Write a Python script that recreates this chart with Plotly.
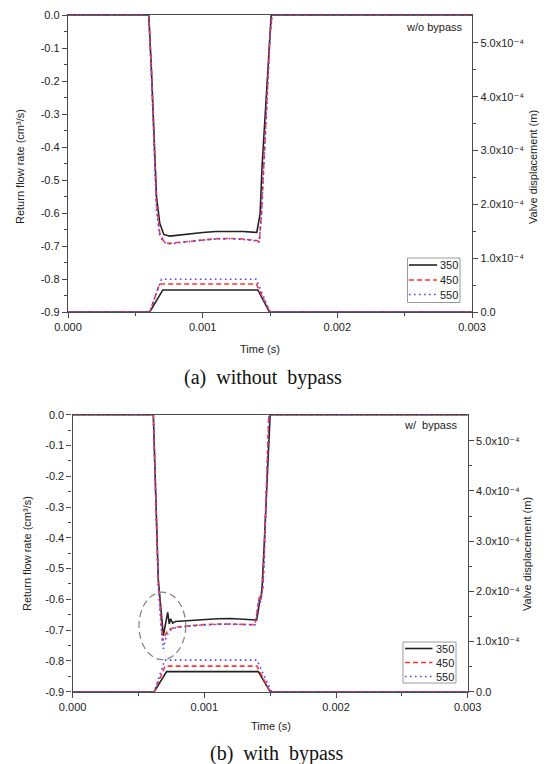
import plotly.graph_objects as go

# ---------------- data ----------------
labels = ["350", "450", "550"]

# (a) without bypass : return flow rate (cm^3/s) vs time (s)
ta_350 = [0, 0.0006, 0.00062, 0.00064, 0.000657, 0.000681, 0.000711, 0.000756, 0.0009, 0.001,
          0.0011, 0.0012, 0.0013, 0.001402, 0.001427, 0.001441, 0.001459, 0.001479, 0.001496, 0.001509, 0.003]
qa_350 = [0, 0, -0.17, -0.36, -0.55, -0.63, -0.665, -0.67, -0.663, -0.659,
          -0.656, -0.655, -0.656, -0.659, -0.601, -0.46, -0.338, -0.187, -0.055, 0, 0]
ta_450 = [0, 0.0006, 0.00062, 0.00064, 0.000657, 0.000681, 0.00071, 0.000745, 0.0009, 0.001,
          0.0011, 0.0012, 0.0013, 0.00141, 0.00142, 0.001435, 0.001459, 0.001484, 0.001501, 0.001516, 0.003]
qa_450 = [0, 0, -0.17, -0.37, -0.57, -0.66, -0.685, -0.692, -0.685, -0.681,
          -0.678, -0.677, -0.679, -0.684, -0.688, -0.611, -0.409, -0.187, -0.055, 0, 0]
ta_550 = [0, 0.0006, 0.00062, 0.00064, 0.000657, 0.000681, 0.00071, 0.000745, 0.0009, 0.001,
          0.0011, 0.0012, 0.0013, 0.00141, 0.00142, 0.001435, 0.001459, 0.001484, 0.001501, 0.001516, 0.003]
qa_550 = [0, 0, -0.19, -0.40, -0.59, -0.67, -0.688, -0.694, -0.686, -0.682,
          -0.679, -0.678, -0.680, -0.685, -0.689, -0.62, -0.42, -0.195, -0.06, 0, 0]

# (a) valve displacement (m)
va_t_350 = [0, 0.000607, 0.000704, 0.00141, 0.001496, 0.003]
va_350 = [0, 0, 0.41e-4, 0.41e-4, 0, 0]
va_t_450 = [0, 0.000607, 0.00068, 0.001398, 0.0015, 0.003]
va_450 = [0, 0, 0.52e-4, 0.52e-4, 0, 0]
va_t_550 = [0, 0.000607, 0.000694, 0.001398, 0.0015, 0.003]
va_550 = [0, 0, 0.61e-4, 0.61e-4, 0, 0]

# (b) with bypass : return flow rate (cm^3/s) vs time (s)
tb_350 = [0, 0.000613, 0.000651, 0.000671, 0.000689, 0.000722, 0.000734, 0.000744, 0.00076, 0.00078,
          0.0009, 0.001, 0.0011, 0.0012, 0.0013, 0.001398, 0.00141, 0.001425, 0.00143, 0.00144,
          0.001455, 0.00147, 0.00149, 0.0015, 0.003]
qb_350 = [0, 0, -0.538, -0.647, -0.718, -0.642, -0.68, -0.663, -0.677, -0.672,
          -0.668, -0.665, -0.663, -0.662, -0.664, -0.667, -0.636, -0.59, -0.6, -0.55,
          -0.42, -0.28, -0.1, 0, 0]
tb_450 = [0, 0.000613, 0.00065, 0.00067, 0.000684, 0.000714, 0.00074, 0.00079, 0.000993, 0.00112,
          0.0013, 0.001385, 0.001398, 0.001418, 0.001428, 0.001444, 0.001453, 0.00147, 0.00149, 0.003]
qb_450 = [0, 0, -0.54, -0.66, -0.734, -0.707, -0.696, -0.69, -0.682, -0.68,
          -0.681, -0.682, -0.647, -0.593, -0.605, -0.56, -0.474, -0.25, 0, 0]
tb_550 = [0, 0.000613, 0.00065, 0.00067, 0.000689, 0.000705, 0.000725, 0.00075, 0.0008, 0.001,
          0.0012, 0.0013, 0.001385, 0.001398, 0.001415, 0.001425, 0.001444, 0.001455, 0.00147, 0.00149, 0.003]
qb_550 = [0, 0, -0.55, -0.68, -0.761, -0.73, -0.71, -0.698, -0.69, -0.683,
          -0.68, -0.681, -0.683, -0.65, -0.6, -0.61, -0.565, -0.48, -0.26, 0, 0]

# (b) valve displacement (m)
vb_t_350 = [0, 0.00062, 0.000714, 0.00141, 0.0015, 0.003]
vb_350 = [0, 0, 0.40e-4, 0.40e-4, 0, 0]
vb_t_450 = [0, 0.00062, 0.000702, 0.0014, 0.0015, 0.003]
vb_450 = [0, 0, 0.51e-4, 0.51e-4, 0, 0]
vb_t_550 = [0, 0.00062, 0.0007, 0.0014, 0.00151, 0.003]
vb_550 = [0, 0, 0.63e-4, 0.63e-4, 0, 0]

# axis ticks
x_ticks = [0, 0.001, 0.002, 0.003]
x_ticktext = ["0.000", "0.001", "0.002", "0.003"]
q_ticks = [0, -0.1, -0.2, -0.3, -0.4, -0.5, -0.6, -0.7, -0.8, -0.9]
q_ticktext = ["0.0", "-0.1", "-0.2", "-0.3", "-0.4", "-0.5", "-0.6", "-0.7", "-0.8", "-0.9"]
v_ticks = [0, 1e-4, 2e-4, 3e-4, 4e-4, 5e-4]
v_ticktext = ["0.0", "1.0x10⁻⁴", "2.0x10⁻⁴", "3.0x10⁻⁴", "4.0x10⁻⁴", "5.0x10⁻⁴"]

# ---------------- styling ----------------
W, H = 546, 764
FONT = "Liberation Sans, Arial, DejaVu Sans, sans-serif"
SERIF = "Liberation Serif, Times New Roman, serif"
AXC = "#4a4a4a"
TXT = "#222222"
styles = {
    "350": dict(color="#222222", width=1.6, dash="solid"),
    "450": dict(color="#ff3535", width=1.6, dash="5px,3px"),
    "550": dict(color="#4646ff", width=1.6, dash="1.6px,3.4px"),
}

fig = go.Figure()

flow_a = {"350": (ta_350, qa_350), "450": (ta_450, qa_450), "550": (ta_550, qa_550)}
valve_a = {"350": (va_t_350, va_350), "450": (va_t_450, va_450), "550": (va_t_550, va_550)}
flow_b = {"350": (tb_350, qb_350), "450": (tb_450, qb_450), "550": (tb_550, qb_550)}
valve_b = {"350": (vb_t_350, vb_350), "450": (vb_t_450, vb_450), "550": (vb_t_550, vb_550)}

for lab in labels:
    t, v = valve_a[lab]
    fig.add_trace(go.Scatter(x=t, y=v, mode="lines", line=styles[lab], name=lab,
                             xaxis="x", yaxis="y2", showlegend=False))
for lab in labels:
    t, q = flow_a[lab]
    fig.add_trace(go.Scatter(x=t, y=q, mode="lines", line=styles[lab], name=lab,
                             xaxis="x", yaxis="y", showlegend=False))
for lab in labels:
    t, v = valve_b[lab]
    fig.add_trace(go.Scatter(x=t, y=v, mode="lines", line=styles[lab], name=lab,
                             xaxis="x2", yaxis="y4", showlegend=False))
for lab in labels:
    t, q = flow_b[lab]
    fig.add_trace(go.Scatter(x=t, y=q, mode="lines", line=styles[lab], name=lab,
                             xaxis="x2", yaxis="y3", showlegend=False))


def px_x(p):
    return p / W


def px_y(p):
    return 1 - p / H


tickfont = dict(family=FONT, size=11, color=TXT)
common = dict(ticks="outside", ticklen=5, tickwidth=1.2, tickcolor=AXC, showline=True,
              linecolor=AXC, linewidth=1.4, showgrid=False, zeroline=False, tickfont=tickfont,
              fixedrange=True, automargin=False, tickmode="array")


def minor(vals):
    return dict(tickvals=vals, ticks="outside", ticklen=3, tickwidth=1.2, tickcolor=AXC,
                showgrid=False)


def xaxis(domain, anchor):
    return dict(domain=domain, anchor=anchor, range=[0, 0.003], tickvals=x_ticks,
                ticktext=x_ticktext, minor=minor([0.0005, 0.0015, 0.0025]), mirror=True, **common)


def qaxis(domain, anchor):
    return dict(domain=domain, anchor=anchor, range=[-0.9, 0], tickvals=q_ticks,
                ticktext=q_ticktext, minor=minor([-0.05 - 0.1 * i for i in range(9)]), **common)


def vaxis(over, anchor):
    return dict(overlaying=over, anchor=anchor, side="right", range=[0, 5.52e-4],
                tickvals=v_ticks, ticktext=v_ticktext,
                minor=minor([0.5e-4, 1.5e-4, 2.5e-4, 3.5e-4, 4.5e-4]), **common)


def ann(text, x, y, **kw):
    d = dict(text=text, x=px_x(x), y=px_y(y), xref="paper", yref="paper", showarrow=False,
             xanchor="center", yanchor="middle", font=dict(family=FONT, size=11, color=TXT))
    d.update(kw)
    return d


annotations = [
    # panel (a)
    ann("Return flow rate (cm³/s)", 20, 167, textangle=-90),
    ann("Valve displacement (m)", 533, 167, textangle=-90),
    ann("Time (s)", 260, 349),
    ann("w/o bypass", 465, 27, xanchor="right"),
    # panel (b)
    ann("Return flow rate (cm³/s)", 27, 554, textangle=-90),
    ann("Valve displacement (m)", 527, 554, textangle=-90),
    ann("Time (s)", 271, 726),
    ann("w/\u00a0\u00a0bypass", 459, 425, xanchor="right"),
    # captions
    ann("(a)\u00a0\u00a0without\u00a0\u00a0bypass", 263, 377,
        font=dict(family=SERIF, size=20, color="#111111")),
    ann("(b)\u00a0\u00a0with\u00a0\u00a0bypass", 277, 753,
        font=dict(family=SERIF, size=20, color="#111111")),
]

# ellipse marking the oscillation right after opening in panel (b)
shapes = [
    dict(type="circle", xref="x2", yref="y3", x0=0.000504, x1=0.000859,
         y0=-0.7958, y1=-0.5766, line=dict(color="#808080", width=1.2, dash="7px,4px")),
]

# compact legend boxes (frame, line samples, labels)
legend_boxes = [
    # (left, top, right, bottom, entry rows, sample x0, sample x1)
    (407.5, 258, 460, 302.5, [265, 280, 294.5], 409, 437),
    (403, 642, 456, 683, [648.5, 662.5, 676.5], 405, 432.5),
]
for (l, t, r, b, rows, sx0, sx1) in legend_boxes:
    shapes.append(dict(type="rect", xref="paper", yref="paper", x0=px_x(l), x1=px_x(r),
                       y0=px_y(b), y1=px_y(t), fillcolor="white",
                       line=dict(color="#9a9a9a", width=1), layer="above"))
    for lab, ry in zip(labels, rows):
        st = styles[lab]
        shapes.append(dict(type="line", xref="paper", yref="paper", x0=px_x(sx0), x1=px_x(sx1),
                           y0=px_y(ry), y1=px_y(ry), layer="above",
                           line=dict(color=st["color"], width=st["width"], dash=st["dash"])))
        annotations.append(ann(lab, sx1 + 1, ry, xanchor="left"))

fig.update_layout(
    width=W, height=H, margin=dict(l=0, r=0, t=0, b=0, pad=0), autosize=False,
    paper_bgcolor="white", plot_bgcolor="white", showlegend=False,
    font=dict(family=FONT, size=11, color=TXT),
    xaxis=xaxis([px_x(68), px_x(472)], "y"),
    yaxis=qaxis([px_y(312), px_y(15)], "x"),
    yaxis2=vaxis("y", "x"),
    xaxis2=xaxis([px_x(72.6), px_x(467.7)], "y3"),
    yaxis3=qaxis([px_y(691.7), px_y(414.7)], "x2"),
    yaxis4=vaxis("y3", "x2"),
    annotations=annotations,
    shapes=shapes,
)

fig.write_html("out.html")
